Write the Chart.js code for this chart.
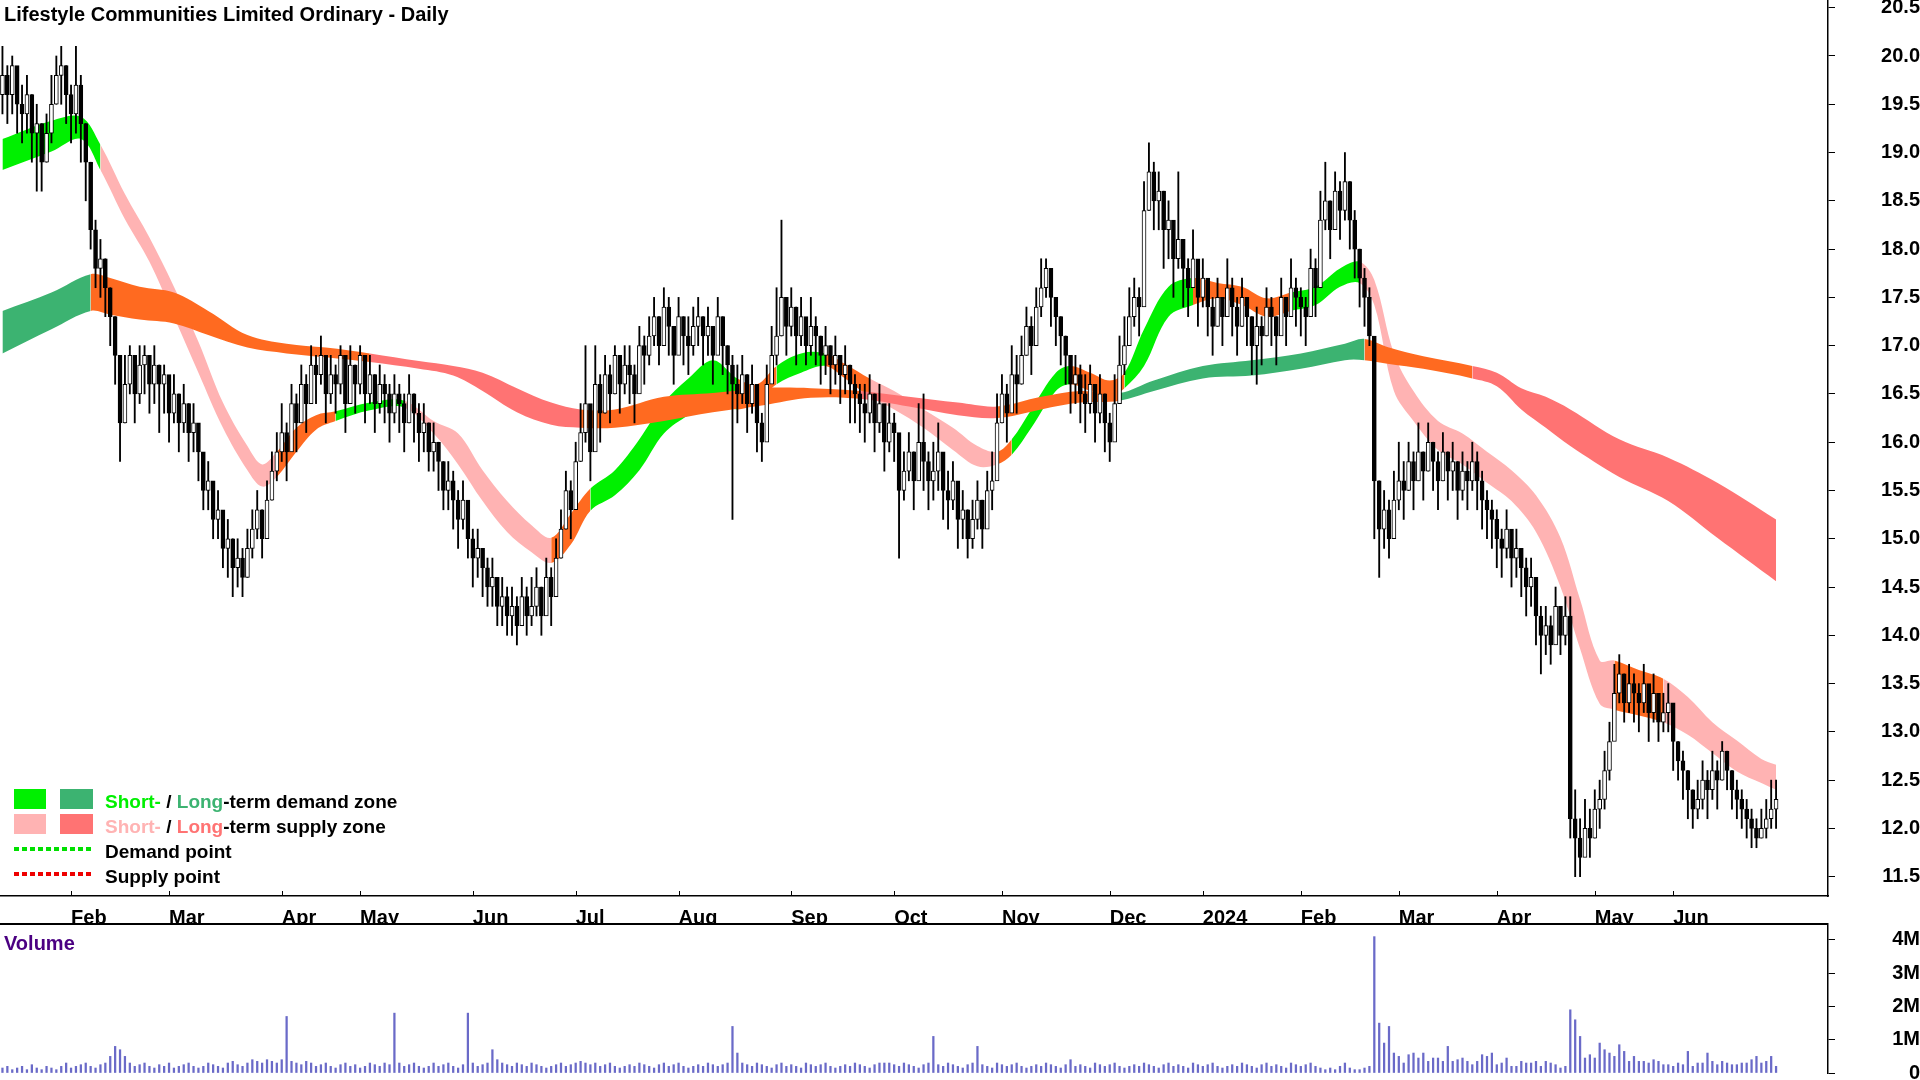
<!DOCTYPE html>
<html><head><meta charset="utf-8">
<script src="https://cdn.jsdelivr.net/npm/chart.js@4/dist/chart.umd.min.js"></script>
<style>html,body{margin:0;padding:0;background:#fff;overflow:hidden}canvas{display:block;position:absolute;left:0}</style>
</head><body>
<canvas id="main" width="1920" height="923" style="top:0"></canvas>
<canvas id="vol" width="1920" height="157" style="top:923px"></canvas>
<script>
const title = "Lifestyle Communities Limited Ordinary - Daily";
const monthTickIdx = [14,34,57,73,96,117,138,161,182,204,226,245,265,285,305,325,341];
const monthTickLbl = ["Feb","Mar","Apr","May","Jun","Jul","Aug","Sep","Oct","Nov","Dec","2024","Feb","Mar","Apr","May","Jun"];
const priceTicks = [11.5,12,12.5,13,13.5,14,14.5,15,15.5,16,16.5,17,17.5,18,18.5,19,19.5,20,20.5];
const volTicks = [0,1,2,3,4];

const closes = [19.8,19.6,19.9,19.5,19.4,19.6,19.2,19.3,18.9,19.2,19.5,19.8,19.9,19.6,19.4,19.7,19.3,18.9,
18.2,17.8,17.9,17.6,17.3,16.9,16.2, 16.6,16.9,16.5,16.8,16.9,16.6,16.8,16.6, 16.7,16.3,16.5,16.2,16.4,16.1,16.2,
15.9,15.5,15.6,15.2,15.3,14.9,15.0,14.7,14.8,14.6, 14.9,15.1,15.3,15.0,15.4,15.7, 15.9,16.1,15.9,16.4,16.2,
16.6,16.4,16.8,16.7,16.9, 16.5,16.7,16.6,16.9,16.4,16.8,16.6,16.9,16.5,16.7, 16.4,16.6,16.5,16.3,16.5,16.4,16.2,16.5,16.3,16.1,
16.2,15.9,16.0,15.8,15.5,15.6,15.4,15.2,15.4,15.0, 14.8,14.9,14.7,14.5,14.6, 14.3,14.4,14.2,14.3,14.1,14.4,14.2,14.3,14.5,14.2,14.6,14.4,
14.8,15.1,15.5,15.3,15.8,16.1,16.4,15.9,16.6,16.3, 16.7,16.5,16.9,16.6,16.8,16.7,16.5,17.0, 16.9,17.1,17.3,17.0,17.4,17.2,16.9,17.3,17.1,17.0,
17.2,17.3,17.1,17.2,16.9,17.3,17.0,16.8,16.6, 16.5,16.7,16.4,16.6,16.2,16.0,16.6, 16.9,17.1,17.5,17.2,17.4,17.1,17.3,17.0,17.2,
17.1,16.9,17.0,16.8,16.9,16.7,16.8,16.6,16.5,16.4, 16.3,16.5,16.2,16.4,16.0,16.2,16.1, 15.5,15.7,15.9,15.6,16.0,15.8,15.6,15.7,
15.9,15.5,15.4,15.6,15.2,15.3,15.0, 15.2,15.4,15.1,15.5,15.6, 16.2,16.5,16.3,16.7,16.6, 16.9,17.2,17.0,17.4,17.6,17.8,17.5,17.3,
17.1,16.9,16.6,16.7,16.5, 16.4,16.6,16.3,16.5,16.2,16.0,16.4, 16.8,17.0,17.3,17.5,17.4, 18.4,18.8,18.5,18.6,18.2, 18.3,17.9,18.1,17.8,17.6,17.9,
17.5,17.7,17.4,17.2,17.5,17.3, 17.6,17.4,17.2,17.5,17.3,17.0, 17.2,17.1,17.4,17.3,17.1,17.5,17.3, 17.6,17.5,17.4,17.3,17.8,17.6,
18.3,18.5,18.2,18.6,18.4,18.7,18.3,18.0, 17.7,17.5,17.1, 15.6,15.1,15.3,15.0,15.4,15.6,
15.5,15.8,15.6,15.9,15.7,16.0,15.8,15.6,15.9,15.7,15.8,15.5,15.7,15.6,15.8, 15.6,15.4,15.3,15.2,15.0,14.9,15.1,14.8,14.9,14.7,14.5,14.6,
14.2,14.0,14.1,13.9,14.3,14.0,14.2, 12.1,11.9,11.7,12.0,11.9,12.2, 12.3,12.6,12.9, 13.4,13.6,13.3,13.5,13.4,13.3,13.5,
13.2,13.4,13.1,13.2,13.3, 12.9,12.7,12.6,12.4,12.2, 12.3,12.5,12.4,12.6,12.5, 12.8,12.6,12.4,12.3,12.2, 12.1,12.0,11.9,12.0,12.1,12.2,12.3];

const highs = [20.1,19.9,20.0,19.8,19.7,19.8,19.6,19.5,19.3,19.4,19.8,20.0,20.1,19.9,19.7,20.1,19.8,19.3,
18.9,18.3,18.1,17.9,17.6,17.3,16.9, 16.9,17.0,16.9,17.0,17.0,16.9,17.0,16.8, 16.8,16.6,16.7,16.5,16.6,16.4,16.4,
16.1,15.8,15.8,15.5,15.5,15.2,15.2,15.0,15.0,14.9, 15.1,15.3,15.5,15.3,15.6,15.9, 16.1,16.4,16.2,16.6,16.5,
16.8,16.7,17.0,16.9,17.1, 16.8,16.9,16.8,17.0,16.7,17.0,16.8,17.0,16.8,16.9, 16.7,16.8,16.7,16.6,16.7,16.6,16.5,16.7,16.5,16.4,
16.4,16.2,16.2,16.0,15.8,15.8,15.7,15.5,15.6,15.3, 15.1,15.1,14.9,14.8,14.8, 14.6,14.6,14.5,14.5,14.4,14.6,14.5,14.6,14.7,14.5,14.8,14.7,
15.0,15.3,15.7,15.6,16.0,16.4,17.0,16.3,17.0,16.7, 16.9,16.8,17.0,16.9,17.0,17.0,16.8,17.2, 17.1,17.3,17.5,17.3,17.6,17.5,17.2,17.5,17.3,17.3,
17.4,17.5,17.3,17.4,17.2,17.5,17.3,17.0,16.9, 16.8,16.9,16.7,16.8,16.5,16.3,16.8, 17.2,17.6,18.3,17.5,17.6,17.4,17.5,17.2,17.5,
17.3,17.1,17.2,17.0,17.1,16.9,17.0,16.8,16.7,16.6, 16.6,16.7,16.5,16.6,16.3,16.4,16.3, 15.8,15.9,16.1,15.9,16.4,16.5,15.9,16.0,
16.2,15.8,15.7,15.8,15.5,15.5,15.3, 15.4,15.6,15.4,15.7,15.9, 16.5,16.7,16.6,17.0,16.9, 17.1,17.4,17.3,17.6,17.9,17.9,17.8,17.5,
17.3,17.1,16.9,16.9,16.8, 16.7,16.8,16.6,16.7,16.5,16.3,16.7, 17.1,17.3,17.6,17.7,17.6, 18.7,19.1,18.9,18.8,18.6, 18.5,18.2,18.8,18.1,17.9,18.2,
17.8,17.9,17.6,17.5,17.7,17.5, 17.9,17.7,17.5,17.7,17.5,17.3, 17.4,17.3,17.6,17.5,17.3,17.7,17.5, 17.9,17.7,17.6,17.5,18.0,17.9,
18.6,18.9,18.5,18.8,18.7,19.0,18.7,18.4, 18.0,17.8,17.6, 16.2,15.6,15.5,15.4,15.7,16.0,
15.8,16.0,15.9,16.2,15.9,16.2,16.0,15.9,16.1,15.9,16.0,15.8,15.9,15.8,16.0, 15.9,15.7,15.5,15.4,15.3,15.1,15.3,15.0,15.1,14.9,14.8,14.8,
14.5,14.3,14.3,14.2,14.5,14.2,14.4, 14.4,12.4,12.1,12.3,12.2,12.4, 12.5,12.8,13.1, 13.7,13.8,13.6,13.7,13.6,13.5,13.7,
13.4,13.6,13.3,13.4,13.5, 13.1,12.9,12.8,12.6,12.4, 12.5,12.7,12.6,12.8,12.7, 12.9,12.8,12.6,12.5,12.4, 12.3,12.2,12.1,12.2,12.3,12.5,12.5];

const lows = [19.4,19.3,19.4,19.2,19.1,19.2,18.9,18.6,18.6,18.9,19.1,19.5,19.5,19.3,19.1,19.2,18.9,18.5,
18.0,17.6,17.5,17.3,17.0,16.6,15.8, 16.2,16.5,16.2,16.4,16.5,16.3,16.4,16.1, 16.3,16.0,16.2,15.9,16.1,15.8,15.9,
15.6,15.3,15.3,15.0,15.0,14.7,14.6,14.4,14.5,14.4, 14.6,14.8,15.0,14.8,15.1,15.4, 15.6,15.8,15.6,16.0,15.9,
16.2,16.1,16.5,16.4,16.6, 16.2,16.4,16.3,16.5,16.1,16.5,16.3,16.5,16.2,16.4, 16.1,16.3,16.2,16.0,16.2,16.1,15.9,16.2,16.0,15.8,
15.9,15.7,15.7,15.5,15.3,15.3,15.1,14.9,15.1,14.8, 14.5,14.6,14.4,14.3,14.3, 14.1,14.1,14.0,14.0,13.9,14.1,14.0,14.1,14.2,14.0,14.3,14.1,
14.5,14.8,15.1,15.0,15.5,15.8,16.0,15.6,16.2,16.0, 16.3,16.2,16.5,16.3,16.5,16.4,16.2,16.6, 16.6,16.8,17.0,16.8,17.0,16.9,16.6,17.0,16.8,16.7,
16.9,17.0,16.8,16.9,16.6,17.0,16.7,16.5,15.2, 16.2,16.4,16.1,16.3,15.9,15.8,16.3, 16.7,16.8,17.1,16.9,17.1,16.8,17.0,16.8,16.9,
16.8,16.6,16.7,16.5,16.6,16.4,16.5,16.2,16.2,16.1, 16.0,16.2,15.9,16.1,15.7,15.9,15.8, 14.8,15.4,15.6,15.3,15.7,15.5,15.3,15.4,
15.5,15.2,15.1,15.3,14.9,15.0,14.8, 14.9,15.1,14.9,15.2,15.3, 15.8,16.2,16.0,16.4,16.3, 16.6,16.9,16.7,17.1,17.3,17.5,17.2,17.0,
16.8,16.6,16.3,16.4,16.2, 16.1,16.3,16.0,16.2,15.9,15.8,16.1, 16.5,16.7,17.0,17.2,17.1, 17.6,18.4,18.2,18.2,17.8, 17.9,17.5,17.8,17.4,17.3,17.6,
17.2,17.4,17.1,16.9,17.2,17.0, 17.3,17.1,16.9,17.2,17.0,16.7, 16.6,16.8,17.1,17.0,16.8,17.2,17.0, 17.3,17.2,17.1,17.0,17.5,17.3,
17.9,18.2,17.9,18.3,18.1,18.3,18.0,17.7, 17.4,17.2,17.0, 15.0,14.6,14.9,14.8,15.1,15.3,
15.2,15.5,15.3,15.6,15.4,15.7,15.5,15.3,15.6,15.4,15.5,15.2,15.4,15.3,15.5, 15.3,15.1,15.0,14.9,14.7,14.6,14.8,14.5,14.6,14.4,14.2,14.3,
13.9,13.6,13.8,13.7,14.0,13.8,13.9, 11.9,11.5,11.5,11.8,11.7,11.9, 12.0,12.2,12.5, 13.0,13.3,13.1,13.2,13.1,13.0,13.2,
12.9,13.1,12.9,13.0,13.0, 12.6,12.5,12.3,12.1,12.0, 12.1,12.2,12.1,12.3,12.2, 12.5,12.4,12.2,12.1,12.0, 11.9,11.8,11.8,11.9,11.9,12.0,12.0];

const volumeM = [0.15,0.2,0.1,0.15,0.2,0.1,0.25,0.15,0.1,0.2,0.15,0.1,0.2,0.3,0.15,0.2,0.25,0.3,0.2,0.15,0.25,0.3,0.5,0.8,0.7,0.5,0.3,0.2,0.25,0.3,
0.2,0.15,0.25,0.2,0.3,0.15,0.2,0.25,0.3,0.2,0.15,0.2,0.3,0.25,0.2,0.15,0.3,0.35,0.25,0.2,0.3,0.4,0.35,0.3,0.4,0.35,0.3,0.4,1.7,0.35,
0.3,0.25,0.35,0.3,0.2,0.25,0.3,0.2,0.15,0.25,0.3,0.2,0.25,0.15,0.2,0.3,0.25,0.2,0.3,0.25,1.8,0.3,0.2,0.25,0.3,0.2,0.15,0.2,0.3,0.2,
0.25,0.3,0.2,0.15,0.25,1.8,0.3,0.2,0.25,0.3,0.7,0.4,0.3,0.25,0.2,0.3,0.25,0.2,0.3,0.25,0.2,0.15,0.2,0.25,0.3,0.2,0.25,0.3,0.35,0.3,
0.25,0.3,0.2,0.25,0.3,0.2,0.15,0.2,0.25,0.2,0.3,0.25,0.2,0.15,0.25,0.3,0.2,0.25,0.3,0.2,0.15,0.2,0.25,0.2,0.3,0.25,0.2,0.25,0.3,1.4,
0.6,0.3,0.25,0.2,0.3,0.25,0.2,0.15,0.25,0.3,0.2,0.25,0.2,0.15,0.3,0.25,0.2,0.25,0.3,0.2,0.15,0.2,0.25,0.2,0.3,0.25,0.2,0.15,0.25,0.3,
0.3,0.3,0.25,0.2,0.3,0.25,0.2,0.15,0.25,0.3,1.1,0.25,0.2,0.3,0.25,0.2,0.15,0.25,0.3,0.8,0.25,0.2,0.15,0.3,0.25,0.2,0.25,0.3,0.2,0.15,
0.2,0.25,0.2,0.3,0.25,0.2,0.15,0.25,0.4,0.2,0.25,0.2,0.15,0.3,0.25,0.2,0.25,0.3,0.2,0.15,0.2,0.25,0.2,0.3,0.25,0.2,0.15,0.25,0.3,0.2,
0.25,0.2,0.15,0.3,0.25,0.2,0.25,0.3,0.2,0.15,0.2,0.25,0.2,0.3,0.25,0.2,0.15,0.25,0.3,0.2,0.25,0.2,0.15,0.3,0.25,0.2,0.25,0.3,0.2,0.15,
0.1,0.15,0.1,0.2,0.3,0.15,0.1,0.1,0.15,0.2,
4.1,1.5,0.9,1.4,0.6,0.5,0.3,0.55,0.6,0.45,0.6,0.35,0.45,0.45,0.35,0.8,0.35,0.4,0.45,0.35,0.25,0.35,0.55,0.5,0.6,0.25,0.3,0.45,0.2,0.2,
0.35,0.3,0.3,0.35,0.2,0.35,0.3,0.25,0.15,0.2,1.9,1.6,1.1,0.45,0.55,0.45,0.9,0.7,0.6,0.5,0.85,0.65,0.35,0.5,0.35,0.35,0.3,0.4,0.35,0.25,
0.25,0.2,0.3,0.25,0.65,0.2,0.3,0.3,0.6,0.35,0.25,0.35,0.3,0.25,0.25,0.3,0.3,0.4,0.5,0.3,0.35,0.5,0.2];

const shortIdx   = [0,10,16,20,25,30,35,40,45,50,53,56,60,64,68,75,82,88,93,98,103,108,112,116,120,125,130,135,140,145,150,154,158,163,168,172,177,182,188,194,199,203,206,210,215,218,222,226,229,233,238,243,248,253,258,263,268,273,277,280,284,288,293,298,303,308,313,318,322,326,329,334,339,344,349,354,359,362];
const shortUpper = [19.14,19.33,19.37,19.08,18.57,18.12,17.61,17.04,16.41,15.96,15.77,15.90,16.15,16.28,16.32,16.41,16.43,16.22,16.09,15.71,15.39,15.14,15.01,15.26,15.52,15.71,16.03,16.41,16.66,16.85,16.66,16.60,16.79,16.92,16.92,16.81,16.66,16.53,16.34,16.15,15.96,15.90,16.03,16.34,16.72,16.79,16.72,16.64,16.72,17.17,17.61,17.70,17.65,17.61,17.49,17.55,17.61,17.80,17.87,17.68,16.92,16.53,16.22,16.09,15.90,15.71,15.45,15.01,14.37,13.74,13.74,13.64,13.55,13.36,13.10,12.91,12.72,12.66];
const shortLower = [18.82,19.01,19.14,18.82,18.31,17.87,17.30,16.72,16.15,15.71,15.54,15.64,15.90,16.13,16.22,16.33,16.36,16.09,15.77,15.39,15.07,14.86,14.75,14.94,15.29,15.45,15.71,16.09,16.28,16.41,16.34,16.41,16.60,16.72,16.79,16.66,16.47,16.34,16.15,15.92,15.75,15.77,15.87,16.15,16.53,16.60,16.53,16.47,16.56,16.79,17.30,17.42,17.49,17.42,17.30,17.36,17.42,17.61,17.65,17.42,16.53,16.22,15.92,15.77,15.58,15.39,15.07,14.50,13.86,13.29,13.23,13.17,13.10,12.97,12.78,12.59,12.47,12.40];
const shortState = ["sd","sd","sd","ss","ss","ss","ss","ss","ss","ss","ss","o","o","o","sd","sd","ss","ss","ss","ss","ss","ss","o","o","sd","sd","sd","sd","sd","sd","o","o","sd","sd","o","o","ss","ss","ss","ss","ss","o","sd","sd","sd","o","o","o","sd","sd","sd","o","o","o","o","sd","sd","sd","ss","ss","ss","ss","ss","ss","ss","ss","ss","ss","ss","ss","o","o","ss","ss","ss","ss","ss","ss"];

const longIdx   = [0,10,18,22,28,35,42,50,58,66,75,85,92,98,105,112,118,125,135,145,155,165,175,185,195,203,212,220,228,235,245,255,265,274,278,283,290,300,305,310,315,320,330,340,350,362];
const longUpper = [17.36,17.55,17.74,17.70,17.61,17.55,17.36,17.11,17.02,16.98,16.92,16.84,16.79,16.72,16.56,16.41,16.34,16.34,16.47,16.51,16.56,16.56,16.53,16.47,16.41,16.37,16.47,16.53,16.51,16.64,16.79,16.85,16.92,17.02,17.07,16.98,16.89,16.79,16.72,16.56,16.47,16.34,16.03,15.84,15.58,15.20];
const longLower = [16.92,17.17,17.36,17.32,17.27,17.23,17.11,16.98,16.92,16.88,16.83,16.76,16.69,16.53,16.31,16.18,16.15,16.15,16.22,16.31,16.38,16.46,16.45,16.37,16.28,16.25,16.34,16.41,16.43,16.53,16.66,16.69,16.76,16.85,16.85,16.81,16.76,16.66,16.58,16.34,16.15,15.96,15.64,15.39,15.01,14.56];
const longState = ["ld","ld","o","o","o","o","o","o","o","o","ls","ls","ls","ls","ls","ls","o","o","o","o","o","o","ls","ls","ls","o","o","o","ld","ld","ld","ld","ld","ld","o","o","o","ls","ls","ls","ls","ls","ls","ls","ls","ls"];

const COL = {sd:"#00f000", ss:"#ffb3b3", ld:"#3cb371", ls:"#ff7373", o:"#ff6a20"};
const FONT = "'Liberation Sans', Arial, sans-serif";

const opens = closes.map((c,i)=> i===0 ? 19.6 : closes[i-1]);
const idx = closes.map((_,i)=>i);

function bandSets(ix, up, lo, st){
  return [
    {type:'line', data: ix.map((x,k)=>({x, y: lo[k]})), borderWidth:0, pointRadius:0, fill:false, tension:0.35, order:10},
    {type:'line', data: ix.map((x,k)=>({x, y: up[k]})), borderWidth:0, pointRadius:0, fill:'-1', tension:0.35, order:10,
     backgroundColor: COL[st[0]],
     segment:{ backgroundColor: c => COL[st[c.p0DataIndex]] }}
  ];
}

const xMin = -0.5, xMax = 372.6;

const overlay = {
  id:'overlay',
  afterDraw(chart){
    const c = chart.ctx, a = chart.chartArea;
    c.save();
    c.font = "bold 20px " + FONT; c.textBaseline = 'alphabetic'; c.fillStyle = '#000';
    c.fillText(title, 4, 21);
    const xs = chart.scales.x;
    c.strokeStyle = '#000'; c.lineWidth = 1;
    monthTickIdx.forEach(v=>{ const px = Math.round(xs.getPixelForValue(v))+0.5; c.beginPath(); c.moveTo(px,a.bottom); c.lineTo(px,a.bottom-5); c.stroke(); });
    const rows = [
      {y:802, sw:[COL.sd, COL.ld], parts:[["Short-",COL.sd],[" / ","#000"],["Long",COL.ld],["-term demand zone","#000"]]},
      {y:827, sw:[COL.ss, COL.ls], parts:[["Short-",COL.ss],[" / ","#000"],["Long",COL.ls],["-term supply zone","#000"]]},
      {y:852, dot:"#00e000", parts:[["Demand point","#000"]]},
      {y:877, dot:"#ee0000", parts:[["Supply point","#000"]]}
    ];
    c.font = "bold 19px " + FONT;
    rows.forEach(r=>{
      if(r.sw){ c.fillStyle=r.sw[0]; c.fillRect(14,r.y-13,32,20); c.fillStyle=r.sw[1]; c.fillRect(60,r.y-13,33,20); }
      if(r.dot){ c.strokeStyle=r.dot; c.lineWidth=4; c.setLineDash([5,3]); c.beginPath(); c.moveTo(14,r.y-3); c.lineTo(92,r.y-3); c.stroke(); c.setLineDash([]); }
      let x = 105;
      r.parts.forEach(([t,col])=>{ c.fillStyle=col; c.fillText(t,x,r.y+6); x += c.measureText(t).width; });
    });
    c.restore();
  }
};

new Chart(document.getElementById('main'), {
  data:{ datasets:[
    ...bandSets(longIdx, longUpper, longLower, longState),
    ...bandSets(shortIdx, shortUpper, shortLower, shortState),
    {type:'bar', data: idx.map(i=>({x:i, y:[lows[i], highs[i]]})), backgroundColor:'#000', barThickness:1.2, grouped:false, order:2},
    {type:'bar', data: idx.map(i=>({x:i, y:[opens[i], closes[i]]})), backgroundColor: idx.map(i=> closes[i]>=opens[i] ? '#fff' : '#000'),
      borderColor:'#000', borderWidth:1, borderSkipped:false, barThickness:4, minBarLength:1, grouped:false, order:1}
  ]},
  options:{
    responsive:false, animation:false, devicePixelRatio:1,
    layout:{padding:0},
    plugins:{legend:{display:false}, tooltip:{enabled:false}},
    scales:{
      x:{type:'linear', min:xMin, max:xMax, offset:false,
        afterBuildTicks: s => { s.ticks = monthTickIdx.map(v=>({value:v})); },
        afterFit: s => { s.height = 27; },
        grid:{display:false}, border:{display:true, color:'#000', width:1.5},
        ticks:{autoSkip:false, maxRotation:0, align:'start', padding:2, color:'#000', font:{family:FONT, size:20, weight:'bold'},
          callback:(v,i)=> monthTickLbl[i]}},
      y:{position:'right', min:11.30, max:20.58,
        afterBuildTicks: s => { s.ticks = priceTicks.map(v=>({value:v})); },
        afterFit: s => { s.width = 92; s.paddingTop = 0; s.paddingBottom = 0; },
        grid:{drawOnChartArea:false, drawTicks:true, tickLength:7, color:'#000'}, border:{display:true, color:'#000', width:1.5},
        ticks:{crossAlign:'far', padding:4, color:'#000', font:{family:FONT, size:20, weight:'bold'}, callback:v=>v.toFixed(1)}}
    }
  },
  plugins:[overlay]
});

const volOverlay = {
  id:'volOverlay',
  afterDraw(chart){
    const c = chart.ctx, a = chart.chartArea;
    c.save();
    c.strokeStyle='#000'; c.lineWidth=2; c.beginPath(); c.moveTo(0,1); c.lineTo(a.right,1); c.stroke();
    c.font = "bold 20px " + FONT; c.fillStyle = '#4b0082'; c.fillText("Volume", 4, 27);
    c.restore();
  }
};

new Chart(document.getElementById('vol'), {
  type:'bar',
  data:{ datasets:[{ data: idx.map(i=>({x:i, y:volumeM[i]})), backgroundColor:'#6a6ac8', barThickness:1.6 }]},
  options:{
    responsive:false, animation:false, devicePixelRatio:1,
    layout:{padding:{top:0,bottom:7}},
    plugins:{legend:{display:false}, tooltip:{enabled:false}},
    scales:{
      x:{type:'linear', min:xMin, max:xMax, offset:false, display:false},
      y:{position:'right', min:0, max:4.51,
        afterBuildTicks: s => { s.ticks = volTicks.map(v=>({value:v})); },
        afterFit: s => { s.width = 92; s.paddingTop = 0; s.paddingBottom = 0; },
        grid:{drawOnChartArea:false, tickLength:7, color:'#000'}, border:{display:true, color:'#000', width:1.5},
        ticks:{crossAlign:'far', padding:4, color:'#000', font:{family:FONT, size:20, weight:'bold'}, callback:v=> v===0 ? '0' : v+'M'}}
    }
  },
  plugins:[volOverlay]
});
</script>
</body></html>
